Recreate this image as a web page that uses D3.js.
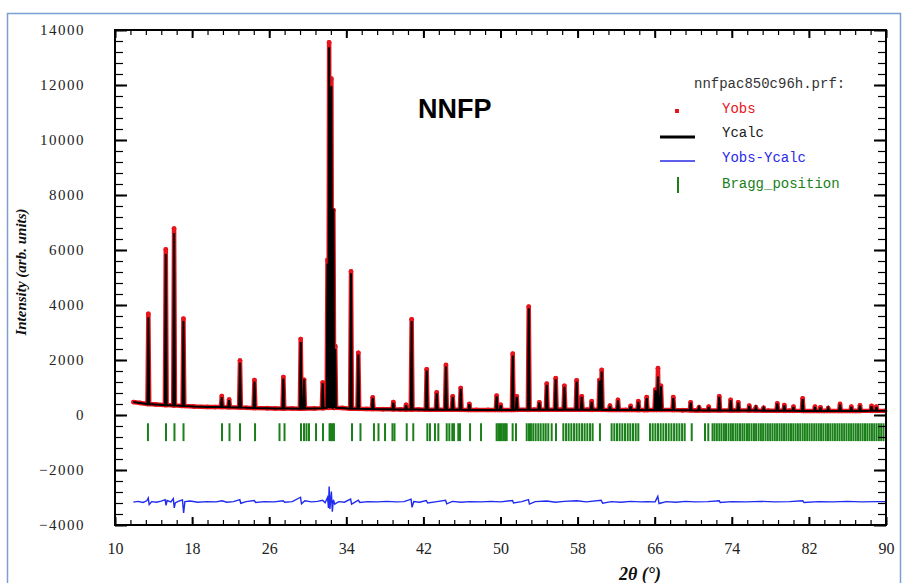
<!DOCTYPE html>
<html>
<head>
<meta charset="utf-8">
<script src="https://cdnjs.cloudflare.com/ajax/libs/d3/7.8.5/d3.min.js"></script>
<style>
body { margin: 0; background: #fff; }
</style>
</head>
<body>
<div id="chart"></div>
<script>
var width = 903,
    height = 583;
var plotL = 115, plotR = 886, plotT = 30, plotB = 525;

// tick labels
var xLabels = [10, 18, 26, 34, 42, 50, 58, 66, 74, 82, 90];
var yLabels = [-4000, -2000, 0, 2000, 4000, 6000, 8000, 10000, 12000, 14000];

// background of the pattern: [2theta, intensity]
var background = [
    [11.9, 470], [12.6, 440], [14.2, 385], [18.2, 310], [19.6, 295], [20.4, 290],
    [23.7, 260], [25.8, 245], [26.6, 240], [28.4, 232], [30.7, 240], [33.6, 255],
    [36.1, 220], [37.8, 210], [39.6, 202], [41.5, 198], [47.5, 185], [48.7, 185],
    [53.5, 192], [56.2, 195], [59.0, 192], [63.0, 183], [64.9, 180], [68.9, 172],
    [70.2, 168], [71.1, 167], [74.2, 165], [77.8, 158], [80.0, 155], [83.6, 150],
    [86.8, 150], [89.9, 150]
];

// reflections: [2theta, Yobs top, Ycalc top, foot level]
var peaks = [
    [13.46, 3680, 3550, 400], [15.27, 6020, 5850, 360], [16.13, 6780, 6620, 350],
    [17.10, 3500, 3420, 330], [21.08, 690, 650, 290], [21.84, 560, 540, 285],
    [22.97, 1980, 1900, 275], [24.47, 1270, 1220, 255], [27.47, 1380, 1330, 235],
    [29.27, 2760, 2650, 230], [29.62, 1280, 1300, 235], [31.55, 1180, 1150, 250],
    [32.05, 5640, 5500, 260], [32.22, 13550, 13370, 280], [32.45, 12230, 11950, 280],
    [32.66, 7450, 7500, 270], [32.85, 2500, 2400, 260], [34.49, 5220, 5150, 230],
    [35.25, 2260, 2200, 225], [36.74, 640, 620, 215], [38.88, 470, 450, 205],
    [40.20, 370, 360, 200], [40.78, 3480, 3420, 200], [42.34, 1660, 1620, 195],
    [43.38, 820, 790, 195], [44.34, 1820, 1760, 195], [45.04, 680, 660, 195],
    [45.87, 980, 950, 190], [46.77, 400, 390, 185], [49.60, 700, 680, 185],
    [50.02, 370, 360, 185], [51.27, 2230, 2160, 185], [51.68, 680, 660, 190],
    [52.93, 3940, 3880, 190], [54.03, 460, 450, 190], [54.80, 1140, 1100, 195],
    [55.73, 1340, 1300, 195], [56.63, 1060, 1030, 195], [57.90, 1260, 1220, 195],
    [58.43, 680, 660, 195], [59.46, 500, 480, 190], [60.27, 1270, 1250, 195],
    [60.50, 1640, 1580, 190], [61.36, 340, 330, 185], [62.19, 550, 530, 185],
    [63.50, 330, 320, 183], [64.30, 500, 480, 180], [65.17, 650, 620, 180],
    [66.07, 920, 900, 185], [66.34, 1700, 1400, 190], [66.65, 1060, 1040, 185],
    [67.93, 650, 620, 180], [69.73, 460, 450, 170], [70.60, 280, 275, 168],
    [71.60, 300, 290, 167], [72.70, 680, 660, 165], [73.88, 550, 530, 165],
    [74.67, 460, 450, 165], [75.81, 340, 330, 160], [76.50, 280, 275, 160],
    [77.30, 260, 255, 158], [78.72, 420, 410, 155], [79.45, 360, 350, 155],
    [80.40, 300, 290, 155], [81.35, 600, 580, 150], [82.63, 300, 290, 150],
    [83.20, 280, 275, 150], [84.00, 250, 250, 150], [85.23, 400, 390, 150],
    [86.40, 300, 295, 150], [87.30, 350, 340, 150], [88.50, 330, 320, 155],
    [89.00, 300, 290, 155]
];

// Yobs - Ycalc curve (already shifted down as plotted)
var difference = [
    [11.9, -3170], [12.4, -3140], [12.9, -3180], [13.3, -3120], [13.45, -3020], [13.55, -3260],
    [13.8, -3150], [14.3, -3170], [14.8, -3130], [15.2, -3080], [15.3, -3290], [15.4, -3110],
    [15.8, -3160], [16.05, -3040], [16.15, -3380], [16.25, -3200], [16.6, -3130], [17.0, -3090],
    [17.12, -3560], [17.25, -3150], [17.8, -3130], [18.6, -3170], [19.5, -3150], [20.5, -3160],
    [21.1, -3120], [21.6, -3170], [22.3, -3150], [22.95, -3080], [23.05, -3210], [23.6, -3150],
    [24.45, -3110], [24.6, -3180], [25.5, -3150], [26.5, -3160], [27.45, -3120], [27.6, -3170],
    [28.4, -3150], [29.25, -2990], [29.35, -3230], [29.7, -3120], [30.4, -3160], [31.0, -3140],
    [31.55, -3100], [31.8, -3190], [32.05, -3000], [32.15, -3380], [32.22, -2600], [32.3, -3420],
    [32.45, -2780], [32.55, -3520], [32.66, -3080], [32.8, -3240], [33.2, -3150], [33.8, -3170],
    [34.45, -3060], [34.55, -3240], [35.25, -3100], [35.4, -3180], [36.2, -3150], [37.2, -3160],
    [38.2, -3140], [39.2, -3160], [40.0, -3150], [40.72, -3060], [40.82, -3360], [41.0, -3150],
    [41.6, -3170], [42.3, -3110], [42.45, -3200], [43.4, -3150], [44.3, -3100], [44.42, -3230],
    [45.0, -3140], [45.9, -3170], [46.8, -3150], [48.0, -3160], [49.0, -3140], [50.0, -3160],
    [51.25, -3110], [51.35, -3200], [52.2, -3150], [52.9, -3080], [53.0, -3240], [53.6, -3150],
    [54.8, -3130], [55.7, -3170], [56.6, -3140], [57.9, -3120], [58.9, -3160], [60.45, -3100],
    [60.6, -3210], [61.5, -3150], [62.5, -3170], [63.5, -3140], [64.5, -3160], [65.2, -3150],
    [66.05, -3160], [66.32, -2960], [66.45, -3220], [67.2, -3150], [68.2, -3170], [69.2, -3140],
    [70.2, -3160], [71.5, -3150], [72.7, -3120], [72.8, -3180], [74.0, -3150], [75.5, -3160],
    [77.0, -3140], [78.5, -3160], [80.0, -3150], [81.35, -3120], [81.5, -3180], [83.0, -3150],
    [84.5, -3160], [86.0, -3140], [87.5, -3160], [89.0, -3150], [89.9, -3150]
];

// Bragg reflection positions (2theta)
var bragg = [
    13.42, 15.29, 16.17, 17.11, 21.10, 21.88, 22.97, 24.53, 27.07, 27.59, 29.30, 29.61,
    29.87, 30.13, 30.86, 31.58, 32.26, 32.41, 32.57, 32.72, 34.59, 35.47, 36.87, 37.34,
    38.02, 38.79, 39.00, 40.27, 40.95, 42.41, 42.68, 43.20, 43.55, 44.42, 44.69, 45.00,
    45.17, 45.62, 45.80, 46.84, 47.98, 49.60, 49.77, 49.95, 50.12, 50.29, 50.47, 50.64,
    51.26, 51.61, 52.72, 52.96, 53.16, 53.40, 53.65, 53.92, 54.17, 54.45, 54.69, 54.96,
    55.31, 55.76, 56.52, 56.80, 57.07, 57.35, 57.63, 57.90, 58.18, 58.46, 58.73, 59.01,
    59.29, 59.56, 60.32, 61.53, 61.81, 62.09, 62.36, 62.64, 62.92, 63.20, 63.47, 63.75,
    64.03, 64.30, 65.51, 65.79, 66.07, 66.34, 66.62, 66.90, 67.17, 67.45, 67.73, 68.01,
    68.28, 68.56, 68.84, 69.11, 69.84, 71.22, 71.56, 72.00, 72.21, 72.45, 72.70, 72.93,
    73.18, 73.40, 73.66, 73.90, 74.12, 74.38, 74.60, 74.85, 75.10, 75.32, 75.58, 75.80,
    76.05, 76.30, 76.52, 76.78, 77.02, 77.25, 77.50, 77.74, 77.98, 78.22, 78.46, 78.70,
    78.95, 79.18, 79.42, 79.66, 79.90, 80.14, 80.38, 80.62, 80.86, 81.10, 81.35, 81.58,
    81.82, 82.06, 82.30, 82.55, 82.78, 83.02, 83.26, 83.50, 83.75, 83.98, 84.22, 84.46,
    84.70, 84.95, 85.18, 85.42, 85.66, 85.90, 86.14, 86.38, 86.62, 86.86, 87.10, 87.34,
    87.58, 87.82, 88.06, 88.30, 88.54, 88.78, 89.02, 89.26, 89.50, 89.74
];

var peakHalf = 0.09;

var svg = d3.select("#chart").append("svg")
    .attr("width", width)
    .attr("height", height)
    .style("display", "block");

var x = d3.scaleLinear().domain([10, 90]).range([plotL, plotR]);
var y = d3.scaleLinear().domain([-4000, 14000]).range([plotB, plotT]);

// outer blue frame
svg.append("rect")
    .attr("x", 7.5).attr("y", 13.5)
    .attr("width", 893).attr("height", 600)
    .attr("fill", "none")
    .attr("stroke", "#7b9fd3")
    .attr("stroke-width", 1.5);

// build profiles (obs / calc) from background + peaks
var obsPts = [], calcPts = [];
background.forEach(function (b) {
    obsPts.push([b[0], b[1]]);
    calcPts.push([b[0], b[1]]);
});
peaks.forEach(function (p) {
    obsPts.push([p[0] - peakHalf, p[3]], [p[0], p[1]], [p[0] + peakHalf, p[3]]);
    calcPts.push([p[0] - peakHalf, p[3]], [p[0], p[2]], [p[0] + peakHalf, p[3]]);
});
obsPts.sort(function (a, b) { return a[0] - b[0]; });
calcPts.sort(function (a, b) { return a[0] - b[0]; });

var line = d3.line()
    .x(function (d) { return x(d[0]); })
    .y(function (d) { return y(d[1]); });

// Yobs (red dots)
svg.append("path")
    .attr("d", line(obsPts))
    .attr("fill", "none")
    .attr("stroke", "#e8141c")
    .attr("stroke-width", 4.5)
    .attr("stroke-linejoin", "round");

svg.selectAll(".obs")
    .data(obsPts)
    .enter()
    .append("circle")
    .attr("class", "obs")
    .attr("cx", function (d) { return x(d[0]); })
    .attr("cy", function (d) { return y(d[1]); })
    .attr("r", 2.4)
    .attr("fill", "#e8141c");

// Ycalc
svg.append("path")
    .attr("d", line(calcPts))
    .attr("fill", "none")
    .attr("stroke", "#000")
    .attr("stroke-width", 2);

// Bragg positions
svg.selectAll(".bragg")
    .data(bragg)
    .enter()
    .append("line")
    .attr("class", "bragg")
    .attr("x1", function (d) { return x(d); })
    .attr("x2", function (d) { return x(d); })
    .attr("y1", y(-300))
    .attr("y2", y(-950))
    .attr("stroke", "#1a801a")
    .attr("stroke-width", 2);

// difference
svg.append("path")
    .attr("d", line(difference))
    .attr("fill", "none")
    .attr("stroke", "#1f2bef")
    .attr("stroke-width", 1.4);

// axes with inward ticks
var xMinor = d3.range(10, 90.01, 1.6);
var yMinor = d3.range(-4000, 14001, 400);

function styleAxis(g, w) {
    g.select(".domain").remove();
    g.selectAll("line").attr("stroke", "#000").attr("stroke-width", w);
}

svg.append("g").attr("transform", "translate(0," + plotB + ")")
    .call(d3.axisBottom(x).tickValues(xMinor).tickSize(-5).tickFormat(""))
    .call(styleAxis, 1.2);
svg.append("g").attr("transform", "translate(0," + plotT + ")")
    .call(d3.axisTop(x).tickValues(xMinor).tickSize(-5).tickFormat(""))
    .call(styleAxis, 1.2);
svg.append("g").attr("transform", "translate(" + plotL + ",0)")
    .call(d3.axisLeft(y).tickValues(yMinor).tickSize(-8).tickFormat(""))
    .call(styleAxis, 1.2);
svg.append("g").attr("transform", "translate(" + plotR + ",0)")
    .call(d3.axisRight(y).tickValues(yMinor).tickSize(-8).tickFormat(""))
    .call(styleAxis, 1.2);

var xAxis = svg.append("g").attr("transform", "translate(0," + plotB + ")")
    .call(d3.axisBottom(x).tickValues(xLabels).tickSize(-8).tickPadding(18).tickFormat(d3.format("d")))
    .call(styleAxis, 2);
svg.append("g").attr("transform", "translate(0," + plotT + ")")
    .call(d3.axisTop(x).tickValues(xLabels).tickSize(-8).tickFormat(""))
    .call(styleAxis, 2);
var yAxis = svg.append("g").attr("transform", "translate(" + plotL + ",0)")
    .call(d3.axisLeft(y).tickValues(yLabels).tickSize(-12).tickPadding(30).tickFormat(d3.format("d")))
    .call(styleAxis, 2);
svg.append("g").attr("transform", "translate(" + plotR + ",0)")
    .call(d3.axisRight(y).tickValues(yLabels).tickSize(-12).tickFormat(""))
    .call(styleAxis, 2);

xAxis.selectAll("text")
    .attr("font-family", "Liberation Serif, serif")
    .attr("font-size", 16)
    .attr("fill", "#222");
yAxis.selectAll("text")
    .attr("font-family", "Liberation Serif, serif")
    .attr("font-size", 15)
    .attr("letter-spacing", 1.5)
    .attr("fill", "#222");

// plot frame
svg.append("rect")
    .attr("x", plotL).attr("y", plotT)
    .attr("width", plotR - plotL).attr("height", plotB - plotT)
    .attr("fill", "none")
    .attr("stroke", "#000")
    .attr("stroke-width", 2);

// axis titles
svg.append("text")
    .attr("x", 640).attr("y", 580)
    .attr("text-anchor", "middle")
    .attr("font-family", "Liberation Serif, serif")
    .attr("font-style", "italic")
    .attr("font-weight", "bold")
    .attr("font-size", 18)
    .attr("fill", "#111")
    .text("2θ (°)");

svg.append("text")
    .attr("transform", "translate(26,272) rotate(-90)")
    .attr("text-anchor", "middle")
    .attr("font-family", "Liberation Serif, serif")
    .attr("font-style", "italic")
    .attr("font-weight", "bold")
    .attr("font-size", 15)
    .attr("fill", "#111")
    .text("Intensity (arb. units)");

// sample label
svg.append("text")
    .attr("x", 418).attr("y", 118)
    .attr("font-family", "Liberation Sans, Arial, sans-serif")
    .attr("font-weight", "bold")
    .attr("font-size", 27)
    .attr("fill", "#000")
    .text("NNFP");

// legend
var mono = "Liberation Mono, Courier New, monospace";
svg.append("text")
    .attr("x", 694).attr("y", 88)
    .attr("font-family", mono).attr("font-size", 14)
    .attr("fill", "#333")
    .text("nnfpac850c96h.prf:");

var legend = [
    {name: "Yobs", color: "#e8141c", y: 108},
    {name: "Ycalc", color: "#222", y: 132},
    {name: "Yobs-Ycalc", color: "#2a2ae8", y: 157},
    {name: "Bragg_position", color: "#1a801a", y: 183}
];
svg.selectAll(".legtext")
    .data(legend)
    .enter()
    .append("text")
    .attr("class", "legtext")
    .attr("x", 722)
    .attr("y", function (d) { return d.y + 5; })
    .attr("font-family", mono).attr("font-size", 14)
    .attr("fill", function (d) { return d.color; })
    .text(function (d) { return d.name; });

svg.append("rect").attr("x", 675).attr("y", 109).attr("width", 4).attr("height", 4).attr("fill", "#e8141c");
svg.append("line").attr("x1", 660).attr("x2", 695).attr("y1", 137).attr("y2", 137)
    .attr("stroke", "#000").attr("stroke-width", 3);
svg.append("line").attr("x1", 660).attr("x2", 695).attr("y1", 161).attr("y2", 161)
    .attr("stroke", "#2a2ae8").attr("stroke-width", 1.5);
svg.append("line").attr("x1", 678).attr("x2", 678).attr("y1", 177).attr("y2", 193)
    .attr("stroke", "#1a801a").attr("stroke-width", 2);
</script>
</body>
</html>
